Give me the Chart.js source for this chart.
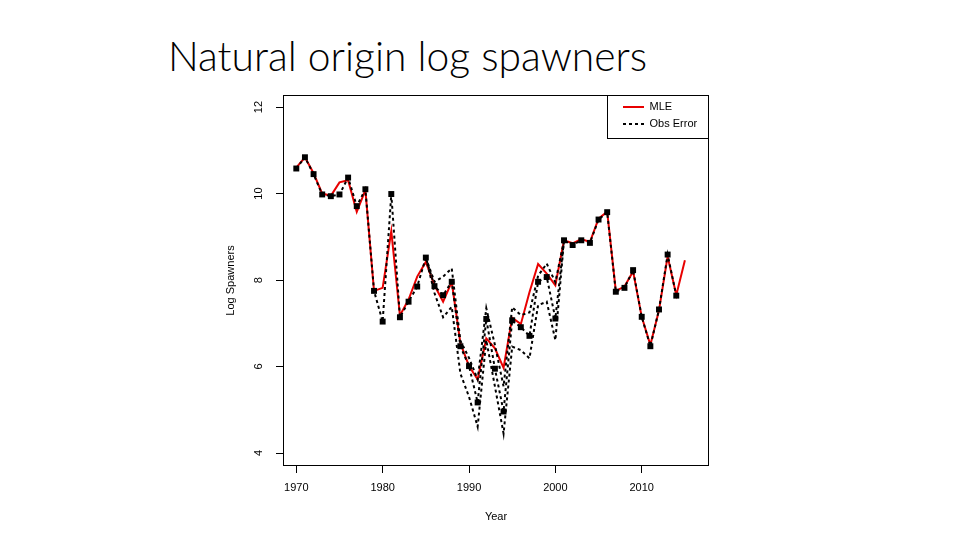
<!DOCTYPE html>
<html lang="en">
<head>
<meta charset="UTF-8">
<title>Natural origin log spawners</title>
<script src="https://cdn.jsdelivr.net/npm/chart.js"></script>
<style>
  body { margin: 0; background: #fff; }
  #wrap { position: relative; width: 960px; height: 540px; }
  #title {
    position: absolute; left: 168px; top: 36px;
    font-family: Lato, "Open Sans", sans-serif; font-weight: 300;
    font-size: 44px; line-height: 1; color: #000; white-space: nowrap;
  }
  canvas { position: absolute; left: 0; top: 0; }
</style>
</head>
<body>
<div id="wrap">
  <div id="title">Natural origin log spawners</div>
  <canvas id="chart" width="960" height="540"></canvas>
</div>
<script>
  // years on the x axis
  var years = [1970, 1971, 1972, 1973, 1974, 1975, 1976, 1977, 1978, 1979,
               1980, 1981, 1982, 1983, 1984, 1985, 1986, 1987, 1988, 1989,
               1990, 1991, 1992, 1993, 1994, 1995, 1996, 1997, 1998, 1999,
               2000, 2001, 2002, 2003, 2004, 2005, 2006, 2007, 2008, 2009,
               2010, 2011, 2012, 2013, 2014, 2015];

  // MLE estimate (red line)
  var mleValues = [10.60, 10.84, 10.47, 10.00, 9.95, 10.26, 10.31, 9.58, 10.08, 7.75,
                   7.82, 9.13, 7.18, 7.55, 8.08, 8.42, 7.88, 7.50, 7.96, 6.54,
                   6.01, 5.70, 6.65, 6.42, 5.97, 7.13, 6.98, 7.72, 8.37, 8.15,
                   7.88, 8.92, 8.85, 8.95, 8.88, 9.42, 9.58, 7.75, 7.85, 8.20,
                   7.15, 6.50, 7.30, 8.55, 7.65, 8.46];

  // Obs Error estimate (squares + dotted line)
  var obsValues = [10.58, 10.84, 10.45, 9.98, 9.94, 9.98, 10.37, 9.71, 10.10, 7.75,
                   7.04, 9.99, 7.14, 7.50, 7.85, 8.52, 7.86, 7.65, 7.96, 6.47,
                   6.01, 5.17, 7.10, 5.95, 4.96, 7.07, 6.91, 6.71, 7.96, 8.07,
                   7.11, 8.92, 8.81, 8.92, 8.86, 9.40, 9.57, 7.73, 7.82, 8.23,
                   7.15, 6.47, 7.32, 8.59, 7.64, null];

  // Obs Error upper / lower bounds (only where they split from the estimate)
  var obsUpper = [null, null, null, null, null, null, null, null, null, null,
                  null, null, null, null, null, 8.52, 7.96, 8.08, 8.27, 6.60,
                  6.20, 5.70, 7.35, 6.50, 5.54, 7.37, 7.19, 7.25, 8.10, 8.38,
                  7.95, 8.92, null, null, null, null, null, null, null, null,
                  null, null, null, null, null, null];
  var obsLower = [null, null, null, null, null, null, null, null, null, null,
                  null, null, null, null, null, 8.52, 7.70, 7.14, 7.38, 5.84,
                  5.30, 4.61, 6.61, 5.54, 4.45, 6.46, 6.38, 6.19, 7.42, 7.50,
                  6.61, 8.92, null, null, null, null, null, null, null, null,
                  null, null, null, null, null, null];

  var xTicks = [1970, 1980, 1990, 2000, 2010];
  var yTicks = [4, 6, 8, 10, 12];

  // fit the title to the slide width
  (function () {
    var t = document.getElementById('title');
    var c = document.createElement('canvas').getContext('2d');
    c.font = '300 100px Lato, "Open Sans", sans-serif';
    var w = c.measureText(t.textContent).width;
    t.style.fontSize = (100 * 479 / w).toFixed(1) + 'px';
  })();

  function toXY(arr) {
    return years.map(function (yr, i) { return { x: yr, y: arr[i] }; });
  }

  var axisFont = { family: '"Liberation Sans", Arial, sans-serif', size: 11 };

  var boxPlugin = {
    id: 'rbox',
    beforeDraw: function (chart) {
      var lg = chart.legend;
      if (lg) {
        lg.left = 617; lg.right = 709;
        lg.top = 95.5; lg.bottom = 466;
      }
    },
    afterDraw: function (chart) {
      var a = chart.chartArea, ctx = chart.ctx;
      ctx.save();
      ctx.strokeStyle = '#000';
      ctx.lineWidth = 1;
      ctx.strokeRect(Math.round(a.left) + 0.5, Math.round(a.top) + 0.5,
                     Math.round(a.right - a.left) - 1, Math.round(a.bottom - a.top) - 1);
      // legend frame
      ctx.strokeRect(607.5, Math.round(a.top) + 0.5, Math.round(a.right) - 608, 43);
      ctx.restore();
    }
  };

  new Chart(document.getElementById('chart'), {
    type: 'line',
    data: {
      datasets: [
        {
          label: 'MLE',
          data: toXY(mleValues),
          borderColor: 'rgb(232, 0, 0)',
          backgroundColor: 'rgb(232, 0, 0)',
          borderWidth: 2,
          pointRadius: 0,
          tension: 0,
          order: 2
        },
        {
          label: 'Obs Error',
          data: toXY(obsValues),
          borderColor: '#000',
          backgroundColor: '#000',
          borderWidth: 2,
          borderDash: [3, 3],
          pointStyle: 'rect',
          pointRadius: 4.2,
          pointBorderWidth: 0,
          pointBackgroundColor: '#000',
          tension: 0,
          order: 0
        },
        {
          label: 'upper',
          data: toXY(obsUpper),
          borderColor: '#000',
          borderWidth: 2,
          borderDash: [3, 3],
          pointRadius: 0,
          tension: 0,
          order: 1
        },
        {
          label: 'lower',
          data: toXY(obsLower),
          borderColor: '#000',
          borderWidth: 2,
          borderDash: [3, 3],
          pointRadius: 0,
          tension: 0,
          order: 1
        }
      ]
    },
    options: {
      responsive: false,
      animation: false,
      devicePixelRatio: 1,
      layout: { padding: { left: 213, right: 251, top: 95, bottom: 0 } },
      plugins: {
        tooltip: { enabled: false },
        legend: {
          position: 'chartArea',
          align: 'start',
          labels: {
            usePointStyle: true,
            pointStyle: 'line',
            pointStyleWidth: 21,
            padding: 6,
            color: '#000',
            font: axisFont,
            generateLabels: function (chart) {
              return chart.data.datasets.slice(0, 2).map(function (ds, i) {
                return {
                  text: ds.label,
                  datasetIndex: i,
                  fillStyle: ds.borderColor,
                  strokeStyle: ds.borderColor,
                  fontColor: '#000',
                  lineWidth: ds.borderWidth,
                  lineDash: ds.borderDash || [],
                  pointStyle: 'line',
                  hidden: false
                };
              });
            }
          }
        }
      },
      scales: {
        x: {
          type: 'linear',
          min: 1968.46,
          max: 2017.79,
          afterBuildTicks: function (s) { s.ticks = xTicks.map(function (v) { return { value: v }; }); },
          afterFit: function (s) { s.height = 74; },
          border: { display: false },
          grid: { drawOnChartArea: false, drawTicks: true, tickLength: 7, color: '#000' },
          ticks: {
            color: '#000', font: axisFont, padding: 8, maxRotation: 0,
            callback: function (v) { return String(v); }
          },
          title: { display: true, text: 'Year', color: '#000', font: axisFont, padding: { top: 0, bottom: 16 } }
        },
        y: {
          min: 3.70,
          max: 12.28,
          afterBuildTicks: function (s) { s.ticks = yTicks.map(function (v) { return { value: v }; }); },
          afterFit: function (s) { s.width = 70; },
          border: { display: false },
          grid: { drawOnChartArea: false, drawTicks: true, tickLength: 7, color: '#000' },
          ticks: {
            color: '#000', font: axisFont, padding: 11,
            minRotation: 90, maxRotation: 90, crossAlign: 'center',
            callback: function (v) { return String(v); }
          },
          title: { display: true, text: 'Log Spawners', color: '#000', font: axisFont, padding: { top: 11, bottom: 0 } }
        }
      }
    },
    plugins: [boxPlugin]
  });
</script>
</body>
</html>
